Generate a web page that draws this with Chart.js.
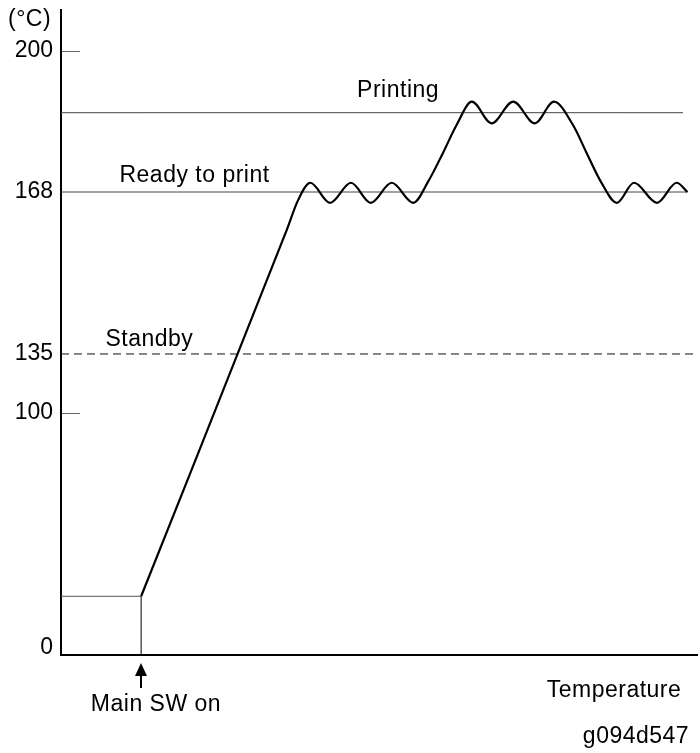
<!DOCTYPE html>
<html>
<head>
<meta charset="utf-8">
<script src="https://cdn.jsdelivr.net/npm/chart.js@4.4.1/dist/chart.umd.min.js"></script>
<style>
  html, body { margin: 0; padding: 0; background: #fff; }
  canvas { display: block; }
</style>
</head>
<body>
<canvas id="grafico" width="700" height="753"></canvas>
<script>
// temperature curve (time in arbitrary units 0-100, temperature in °C)
const tempos = [12.6, 35.5, 37.3, 39.2, 42.3, 45.6, 48.7, 52.0, 55.4, 57.7, 60.0, 62.2,
  64.6, 67.7, 71.1, 74.5, 77.5, 80.5, 82.7, 84.9, 87.4, 90.1, 93.7, 96.8, 98.5];
const temperaturas = [22, 160.3, 166.4, 170.1, 165.8, 170.1, 165.8, 170.1, 165.8, 170.3, 176.7, 183.2,
  188.5, 183.6, 188.5, 183.6, 188.5, 183.2, 176.7, 170.3, 165.8, 170.1, 165.8, 170.1, 168];
const tempInicial = 22;
const ligaMain = 12.6;

// reference levels
const nomesNiveis = ['Printing', 'Ready to print', 'Standby'];
const niveis = [186, 168, 135];
const fimNiveis = [97.8, 98.5, 100];

const ticksY = [0, 100, 135, 168, 200];
const ticksMarcados = [100, 200];

// the y axis is schematic: temperature -> fraction of axis height
const dobras = [[-3, 0], [0, 0.0109], [100, 0.3752], [135, 0.4667], [168, 0.7178], [200, 0.9364], [209, 1]];

function paraDecimal(v) {
  let i = 0;
  while (i < dobras.length - 2 && v > dobras[i + 1][0]) i++;
  const a = dobras[i], b = dobras[i + 1];
  return a[1] + (v - a[0]) / (b[0] - a[0]) * (b[1] - a[1]);
}
function deDecimal(d) {
  let i = 0;
  while (i < dobras.length - 2 && d > dobras[i + 1][1]) i++;
  const a = dobras[i], b = dobras[i + 1];
  return a[0] + (d - a[1]) / (b[1] - a[1]) * (b[0] - a[0]);
}

class EscalaDobrada extends Chart.LinearScale {
  getPixelForValue(v) {
    if (v === null || v === undefined) return NaN;
    return this.getPixelForDecimal(paraDecimal(v));
  }
  getValueForPixel(p) {
    return deDecimal(this.getDecimalForPixel(p));
  }
}
EscalaDobrada.id = 'dobrada';
EscalaDobrada.defaults = {};
Chart.register(EscalaDobrada);

const fonte = '"Liberation Sans", Arial, sans-serif';

const anotacoes = {
  id: 'anotacoes',
  afterDraw(chart) {
    const { ctx, scales: { x, y } } = chart;
    ctx.save();

    // short ticks inside the axis
    ctx.strokeStyle = '#666';
    ctx.lineWidth = 1;
    ticksMarcados.forEach(v => {
      const py = Math.round(y.getPixelForValue(v)) + 0.5;
      ctx.beginPath();
      ctx.moveTo(x.left + 1, py);
      ctx.lineTo(x.left + 19, py);
      ctx.stroke();
    });

    ctx.fillStyle = '#000';
    ctx.font = '23px ' + fonte;
    ctx.letterSpacing = '0.5px';
    ctx.textBaseline = 'alphabetic';

    // level names
    const posNomes = [{ t: 53.0, dy: -16 }, { t: 21.0, dy: -10 }, { t: 13.9, dy: -8 }];
    ctx.textAlign = 'center';
    nomesNiveis.forEach((nome, i) => {
      ctx.fillText(nome, x.getPixelForValue(posNomes[i].t), y.getPixelForValue(niveis[i]) + posNomes[i].dy);
    });

    // arrow for main switch
    const ax = Math.round(x.getPixelForValue(ligaMain));
    ctx.lineWidth = 2;
    ctx.strokeStyle = '#000';
    ctx.beginPath();
    ctx.moveTo(ax, 688);
    ctx.lineTo(ax, 673);
    ctx.stroke();
    ctx.beginPath();
    ctx.moveTo(ax, 663);
    ctx.lineTo(ax - 6, 676);
    ctx.lineTo(ax + 6, 676);
    ctx.closePath();
    ctx.fill();

    ctx.fillText('Main SW on', ax + 15, 711);
    ctx.fillText('Temperature', 614, 697);
    ctx.fillText('g094d547', 636, 743);
    ctx.textAlign = 'left';
    ctx.fillText('(°C)', 8, 26);
    ctx.restore();
  }
};

const curva = tempos.map((t, i) => ({ x: t, y: temperaturas[i] }));

const linhasNivel = niveis.map((v, i) => ({
  data: [{ x: 0, y: v }, { x: fimNiveis[i], y: v }],
  borderColor: i === 2 ? '#111' : '#444',
  borderWidth: 1,
  borderDash: i === 2 ? [8, 5] : []
}));

new Chart(document.getElementById('grafico'), {
  type: 'line',
  data: {
    datasets: [
      { data: curva, borderColor: '#000', borderWidth: 2.2, cubicInterpolationMode: 'monotone' },
      { data: [{ x: ligaMain, y: -3 }, { x: ligaMain, y: tempInicial }], borderColor: '#000', borderWidth: 1 },
      { data: [{ x: 0, y: tempInicial }, { x: ligaMain, y: tempInicial }], borderColor: '#555', borderWidth: 1 },
      ...linhasNivel
    ]
  },
  options: {
    animation: false,
    responsive: false,
    events: [],
    layout: { padding: { top: 10, right: 3, bottom: 98, left: 0 } },
    elements: { point: { radius: 0 }, line: { tension: 0, fill: false } },
    plugins: { legend: { display: false }, tooltip: { enabled: false } },
    scales: {
      x: {
        type: 'linear', min: 0, max: 100,
        grid: { display: false, drawTicks: false },
        ticks: { display: false },
        border: { color: '#000', width: 2 },
        afterFit: s => { s.height = 0; s.paddingLeft = 0; s.paddingRight = 0; }
      },
      y: {
        type: 'dobrada', min: -3, max: 209,
        grid: { display: false, drawTicks: false },
        border: { color: '#000', width: 2 },
        ticks: { color: '#000', padding: 8, font: { family: fonte, size: 23 } },
        afterBuildTicks: s => { s.ticks = ticksY.map(v => ({ value: v })); },
        afterFit: s => { s.width = 61; s.paddingTop = 0; s.paddingBottom = 0; }
      }
    }
  },
  plugins: [anotacoes]
});
</script>
</body>
</html>
